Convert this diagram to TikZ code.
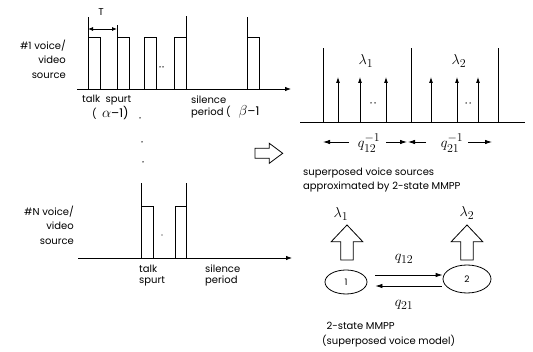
\documentclass[tikz,border=0pt]{standalone}
\usepackage{fontspec}
\setmainfont{Poppins}
\DeclareMathSizes{15}{15}{11.5}{9}
\usetikzlibrary{arrows.meta,shapes.geometric}
\tikzset{
  lbl/.style={inner sep=0pt, font=\fontsize{10}{14.5}\selectfont},
  tight/.style={inner sep=0pt, font=\fontsize{10}{11}\selectfont},
  mlbl/.style={inner sep=0pt, font=\fontsize{15}{16}\selectfont},
  wave/.style={line width=0.8pt},
  axisarrow/.style={line width=0.8pt, -{Latex[length=6pt,width=4.5pt]}},
  pulsearrow/.style={line width=0.8pt, -{Latex[length=6pt,width=4pt]}},
  dimarrow/.style={line width=0.8pt, -{Latex[length=7pt,width=4.5pt]}},
  hollow/.style={line width=0.8pt, draw=black, fill=white, line join=miter},
  state/.style={ellipse, draw, line width=0.8pt, inner sep=0pt, font=\fontsize{9}{10}\selectfont},
  dot/.style={circle, fill, inner sep=0pt, minimum size=1.5pt},
}
\newcommand\smallpart{\fontsize{12}{13}\selectfont}
\newcommand\textpart{\fontsize{10}{10}\selectfont}
\newcommand\greekpart{\fontsize{15}{16}\selectfont}
\begin{document}
\begin{tikzpicture}[x=1pt,y=-1pt]
\useasboundingbox (0,0) rectangle (533,352);

% ---------- source #1 ----------
\node[lbl, align=right, anchor=east] (src1) at (66,59) {\#1 voice/\\video\\source};
\coordinate (b1s) at (77,89);
\coordinate (b1e) at (291,89);
\draw[axisarrow] (b1s) -- (b1e);
\foreach \xa/\xb in {88/100,117/129,144/156,174/186,247/259}
  \draw[wave] (\xa,89) -- (\xa,37) -- (\xb,37) -- (\xb,89);
\draw[wave] (88,37) -- (88,17);
\draw[wave] (117,37) -- (117,25);
\draw[wave] (186,37) -- (186,16);
\draw[wave] (247,37) -- (247,17);
\coordinate (t1) at (88,29);
\coordinate (t2) at (117,29);
\draw[line width=0.8pt, {Latex[length=5pt,width=4pt]}-{Latex[length=5pt,width=4pt]}] (t1) -- (t2);
\node[lbl] (tlab) at (101,12) {T};
\node[dot] (d1a) at (160,67) {};
\node[dot] (d1b) at (163,67) {};
\node[lbl, anchor=west] (talk1) at (82,100) {talk\ \ spurt};
\node[mlbl, anchor=west] (alpha1) at (92,113.5) {\textpart(\ \ \greekpart$\alpha$\smallpart--1)};
\node[lbl, anchor=west] (sil1) at (191,99.5) {silence};
\node[mlbl, anchor=west] (per1) at (191,112) {\textpart period (\ \ \ \greekpart$\beta$\smallpart--1};

% vertical ellipsis between the sources
\node[dot] (v1) at (140,118) {};
\node[dot] (v2) at (142,142) {};
\node[dot] (v3) at (143,162) {};

% ---------- source #N ----------
\node[lbl, align=right, anchor=east] (srcN) at (74,225) {\#N voice/\\video\\source};
\coordinate (bNs) at (78,258);
\coordinate (bNe) at (292,258);
\draw[axisarrow] (bNs) -- (bNe);
\draw[wave] (141,258) -- (141,206) -- (153,206) -- (153,258);
\draw[wave] (175,258) -- (175,206) -- (186,206) -- (186,258);
\draw[wave] (141,206) -- (141,183);
\draw[wave] (186,206) -- (186,183);
\node[dot, minimum size=1.2pt] (dN) at (162,235) {};
\node[tight, align=left, anchor=west] (talkN) at (139,275.5) {talk\\spurt};
\node[tight, align=left, anchor=west] (silN) at (205,275.5) {silence\\period};

% ---------- hollow arrow ----------
\draw[hollow] (255,148.3) -- (269.3,148.3) -- (269.3,143.3) -- (282.7,153.3)
  -- (269.3,163.3) -- (269.3,158.3) -- (255,158.3) -- cycle;

% ---------- superposed arrivals ----------
\coordinate (s0) at (300,122);
\coordinate (s1) at (525,122);
\draw[wave] (s0) -- (s1);
\foreach \x in {323,411,498}
  \draw[wave] (\x,122) -- (\x,48);
\foreach \x in {338,360,386,431,457,478}
  \draw[pulsearrow] (\x,122) -- (\x,77);
\node[dot] (d2a) at (371,103) {};
\node[dot] (d2b) at (375,103) {};
\node[dot] (d3a) at (466,103) {};
\node[dot] (d3b) at (470,103) {};
\node[mlbl] (lam1) at (366,61) {$\lambda_1$};
\node[mlbl] (lam2) at (459,61) {$\lambda_2$};

\node[mlbl] (q12inv) at (369,143) {$q_{12}^{-1}$};
\node[mlbl] (q21inv) at (452,143) {$q_{21}^{-1}$};
\coordinate (a1s) at (349,142); \coordinate (a1e) at (323,142);
\coordinate (a2s) at (386,142); \coordinate (a2e) at (407,142);
\coordinate (a3s) at (426,142); \coordinate (a3e) at (408,142);
\coordinate (a4s) at (468,142); \coordinate (a4e) at (492,142);
\draw[dimarrow] (a1s) -- (a1e);
\draw[dimarrow] (a2s) -- (a2e);
\draw[dimarrow] (a3s) -- (a3e);
\draw[dimarrow] (a4s) -- (a4e);

\node[lbl, align=left, anchor=west] (cap1) at (303,180) {superposed voice sources\\approximated by 2-state MMPP};

% ---------- 2-state MMPP ----------
\node[state, minimum width=42pt, minimum height=24pt] (st1) at (346,282) {1};
\node[state, minimum width=48pt, minimum height=28pt] (st2) at (467,279) {2};
\foreach \cx in {347,467}
  \draw[hollow] (\cx-6.3,260) -- (\cx-6.3,241.7) -- (\cx-15.8,241.7) -- (\cx,225)
    -- (\cx+15.8,241.7) -- (\cx+6.3,241.7) -- (\cx+6.3,260) -- cycle;
\node[mlbl] (ml1) at (341,214) {$\lambda_1$};
\node[mlbl] (ml2) at (467,213) {$\lambda_2$};
\coordinate (ya) at (0,275);
\coordinate (yb) at (0,286);
\draw[dimarrow] ([xshift=8pt]st1.east |- ya) -- (st2.west |- ya);
\draw[dimarrow] ([xshift=-1pt]st2.west |- yb) -- ([xshift=8pt]st1.east |- yb);
\node[mlbl] (q12) at (404,259) {$q_{12}$};
\node[mlbl] (q21) at (404,305) {$q_{21}$};
\node[lbl, align=left, anchor=west] (cap2) at (322,334.5) {\ \,2-state MMPP\\(superposed voice model)};
\end{tikzpicture}
\end{document}
